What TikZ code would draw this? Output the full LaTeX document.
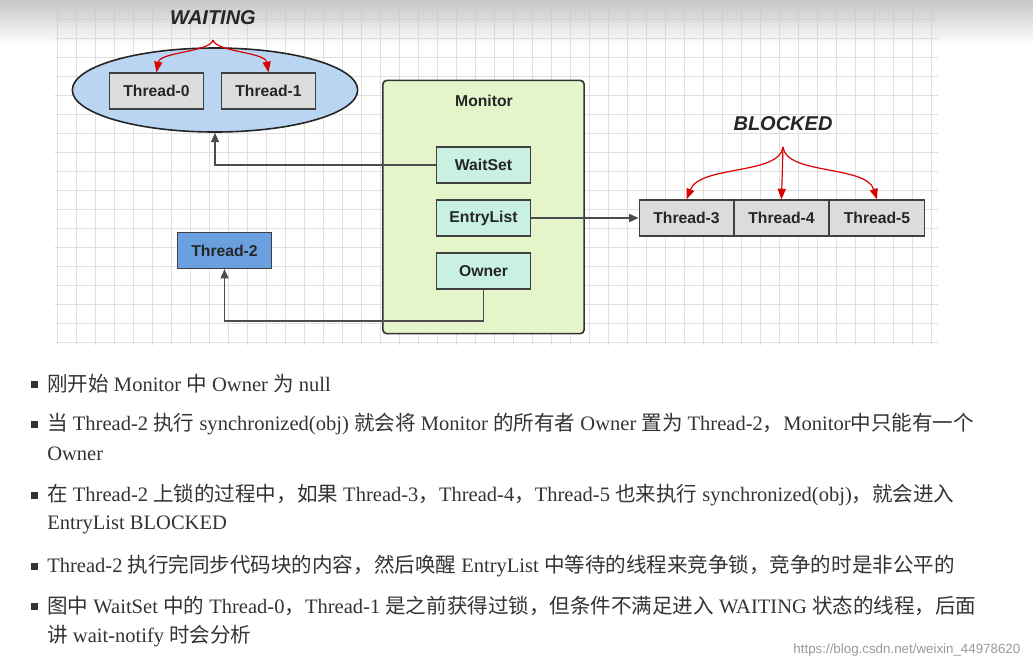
\documentclass[tikz,border=0pt]{standalone}
\usepackage{fontspec}
\setmainfont{Liberation Serif}
\newfontfamily\zhf{Noto Sans CJK SC}
\newfontfamily\lbl{Liberation Sans}
\newcommand{\zh}[1]{{\zhf #1}}
\usetikzlibrary{arrows.meta,fadings,shapes.geometric}
\definecolor{txt}{HTML}{333333}
\definecolor{ellc}{HTML}{B9D5F2}
\definecolor{t2c}{HTML}{6A9FE0}
\definecolor{monc}{HTML}{E3F5C9}
\definecolor{mintc}{HTML}{C8F1E1}
\definecolor{greyc}{HTML}{DCDCDC}
\tikzset{
  box/.style={draw=black!75,line width=0.9pt,minimum width=71pt,minimum height=27pt,inner sep=0pt,font=\lbl\bfseries\fontsize{11.8}{13}\selectfont,text=black!85},
  tbox/.style={box,fill=greyc},
  mbox/.style={box,fill=mintc},
  conn/.style={draw=black!70,line width=0.9pt,-{Triangle[length=7pt,width=6pt]}},
  red/.style={draw=red!85!black,line width=0.9pt,-{Triangle[length=8pt,width=6pt]}},
  para/.style={anchor=west,inner sep=0pt,text=txt,font=\fontsize{15.4}{17}\selectfont},
  state/.style={font=\lbl\bfseries\itshape\fontsize{15}{17}\selectfont,text=black!85},
}
\begin{document}
\begin{tikzpicture}[x=0.75pt,y=-0.75pt]
\useasboundingbox (0,0) rectangle (1033,669);
\fill[white] (0,0) rectangle (1033,669);
% grid
\draw[black!12,line width=0.5pt] (55,0) grid[step=14.25pt] (938,345);
\fill[gray!45,path fading=south] (0,0) rectangle (1033,45);
% waiting
\node[draw=black!85,line width=1.2pt,fill=ellc,ellipse,minimum width=214pt,minimum height=63pt] (ell) at (215,90) {};
\node[tbox] (t0) at (156.5,91) {Thread-0};
\node[tbox] (t1) at (268.5,91) {Thread-1};
\node[state] (wt) at (213,18) {WAITING};
\coordinate (wsrc) at (213,40);
\draw[red] (wsrc) .. controls (210,52) and (160,52) .. (t0.north);
\draw[red] (wsrc) .. controls (216,52) and (265,52) .. (t1.north);
% monitor
\node[draw=black!80,line width=1.2pt,fill=monc,rounded corners=3pt,minimum width=151pt,minimum height=190pt,inner sep=0pt] (mon) at (483.5,207) {};
\node[font=\lbl\bfseries\fontsize{11.8}{13}\selectfont,text=black!85] (ml) at (484,101) {Monitor};
\node[mbox] (ws) at (483.5,165) {WaitSet};
\node[mbox] (el) at (483.5,218) {EntryList};
\node[mbox] (ow) at (483.5,271) {Owner};
\node[box,fill=t2c] (t2) at (224.5,250.5) {Thread-2};
% blocked
\node[tbox] (t3) at (686.5,218) {Thread-3};
\node[tbox] (t4) at (781.5,218) {Thread-4};
\node[tbox] (t5) at (877,218) {Thread-5};
\node[state] (bl) at (783,124) {BLOCKED};
\coordinate (bsrc) at (783,147);
\draw[red] (bsrc) .. controls (780,175) and (700,165) .. (t3.north);
\draw[red] (bsrc) -- (t4.north);
\draw[red] (bsrc) .. controls (786,175) and (866,165) .. (t5.north);
% connectors
\draw[conn] (ws.west) -| (ell.south);
\draw[conn] (el.east) -- (t3.west);
\draw[conn] (ow.south) |- (354,321) -| (t2.south);
% text
\foreach \y in {384,424,495,566,606}{\fill[txt] (31,\y-3.5) rectangle (38,\y+3.5);}
\node[para] (p1) at (47,384) {\zh{刚开始} Monitor \zh{中} Owner \zh{为} null};
\node[para] (p2) at (47,424) {\zh{当} Thread-2 \zh{执行} synchronized(obj) \zh{就会将} Monitor \zh{的所有者} Owner \zh{置为} Thread-2\zh{，}Monitor\zh{中只能有一个}};
\node[para] (p2b) at (47,454) {Owner};
\node[para] (p3) at (47,495) {\zh{在} Thread-2 \zh{上锁的过程中，如果} Thread-3\zh{，}Thread-4\zh{，}Thread-5 \zh{也来执行} synchronized(obj)\zh{，就会进入}};
\node[para] (p3b) at (47,525) {EntryList BLOCKED};
\node[para] (p4) at (47,566) {Thread-2 \zh{执行完同步代码块的内容，然后唤醒} EntryList \zh{中等待的线程来竞争锁，竞争的时是非公平的}};
\node[para] (p5) at (47,606) {\zh{图中} WaitSet \zh{中的} Thread-0\zh{，}Thread-1 \zh{是之前获得过锁，但条件不满足进入} WAITING \zh{状态的线程，后面}};
\node[para] (p5b) at (47,636) {\zh{讲} wait-notify \zh{时会分析}};
\node[anchor=east,text=black!40,font=\lbl\fontsize{10}{12}\selectfont] (wm) at (1025,650) {https://blog.csdn.net/weixin\_44978620};
\end{tikzpicture}
\end{document}
